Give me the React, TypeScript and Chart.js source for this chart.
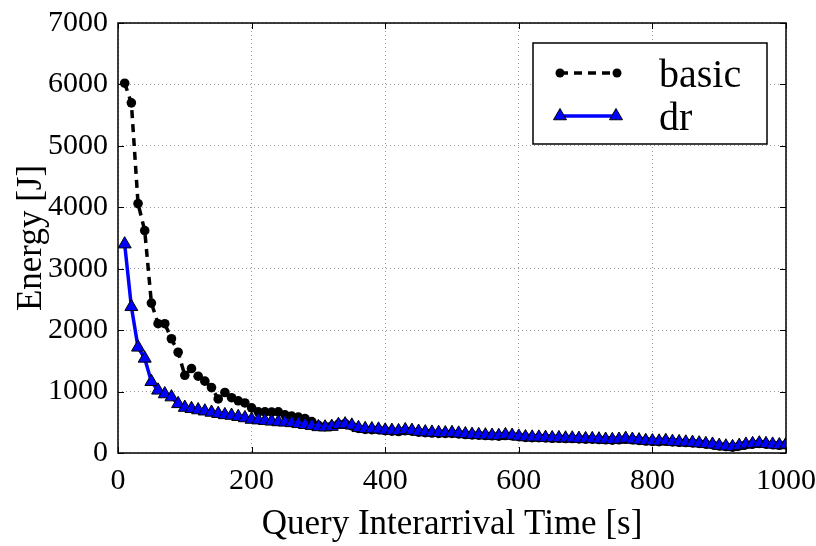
import React, { useEffect, useRef } from "react";
import { Chart, registerables } from "chart.js";

Chart.register(...registerables);

const xValues = [
  10, 20, 30, 40, 50, 60, 70, 80, 90, 100,
  110, 120, 130, 140, 150, 160, 170, 180, 190, 200,
  210, 220, 230, 240, 250, 260, 270, 280, 290, 300,
  310, 320, 330, 340, 350, 360, 370, 380, 390, 400,
  410, 420, 430, 440, 450, 460, 470, 480, 490, 500,
  510, 520, 530, 540, 550, 560, 570, 580, 590, 600,
  610, 620, 630, 640, 650, 660, 670, 680, 690, 700,
  710, 720, 730, 740, 750, 760, 770, 780, 790, 800,
  810, 820, 830, 840, 850, 860, 870, 880, 890, 900,
  910, 920, 930, 940, 950, 960, 970, 980, 990, 1000,
];

const basicValues = [
  6020, 5700, 4060, 3620, 2440, 2105, 2105, 1860, 1640, 1265,
  1375, 1250, 1170, 1065, 880, 985, 900, 850, 815, 735,
  670, 670, 665, 670, 620, 600, 585, 560, 510, 450,
  430, 440, 470, 480, 440, 400, 385, 380, 380, 365,
  355, 350, 365, 355, 340, 330, 325, 320, 320, 320,
  310, 300, 295, 290, 285, 280, 275, 285, 280, 265,
  255, 250, 250, 245, 240, 240, 235, 235, 230, 225,
  225, 220, 215, 210, 215, 225, 215, 205, 195, 190,
  185, 195, 180, 175, 170, 165, 155, 145, 135, 115,
  105, 95, 115, 135, 145, 155, 145, 135, 125, 135,
];

const drValues = [
  3400, 2380, 1720, 1540, 1160, 1020, 960, 910, 800, 740,
  720, 700, 680, 660, 640, 620, 610, 590, 570, 545,
  535, 525, 515, 505, 500, 490, 475, 460, 445, 425,
  420, 430, 460, 470, 450, 410, 395, 390, 385, 370,
  365, 360, 375, 365, 350, 340, 335, 330, 325, 330,
  320, 310, 300, 295, 290, 285, 280, 295, 285, 270,
  260, 255, 255, 250, 245, 245, 240, 240, 235, 230,
  230, 225, 220, 215, 220, 235, 220, 210, 200, 195,
  190, 200, 185, 180, 175, 170, 160, 150, 140, 120,
  110, 100, 120, 140, 150, 160, 150, 140, 130, 140,
];

const xTicks = [0, 200, 400, 600, 800, 1000];
const yTicks = [0, 1000, 2000, 3000, 4000, 5000, 6000, 7000];
const seriesLabels = ["basic", "dr"];
const xTitle = "Query Interarrival Time [s]";
const yTitle = "Energy [J]";

const FONT = "'Liberation Serif', 'Times New Roman', serif";

const framePlugin = {
  id: "frameAndLegend",
  afterDatasetsDraw(chart: any) {
    const { ctx, chartArea } = chart;
    const { left, right, top, bottom } = chartArea;
    const xs = chart.scales.x;
    const ys = chart.scales.y;
    ctx.save();
    // frame
    ctx.strokeStyle = "#000";
    ctx.lineWidth = 1.5;
    ctx.setLineDash([]);
    ctx.strokeRect(left, top, right - left, bottom - top);
    // inward ticks
    ctx.lineWidth = 1;
    const tl = 6;
    ctx.beginPath();
    xTicks.forEach((v) => {
      const px = Math.round(xs.getPixelForValue(v)) + 0.5;
      ctx.moveTo(px, bottom);
      ctx.lineTo(px, bottom - tl);
      ctx.moveTo(px, top);
      ctx.lineTo(px, top + tl);
    });
    yTicks.forEach((v) => {
      const py = Math.round(ys.getPixelForValue(v)) + 0.5;
      ctx.moveTo(left, py);
      ctx.lineTo(left + tl, py);
      ctx.moveTo(right, py);
      ctx.lineTo(right - tl, py);
    });
    ctx.stroke();

    // legend
    const bx = 533, by = 43, bw = 234, bh = 101;
    ctx.fillStyle = "#fff";
    ctx.fillRect(bx, by, bw, bh);
    ctx.strokeStyle = "#000";
    ctx.lineWidth = 1.5;
    ctx.strokeRect(bx, by, bw, bh);

    // basic sample
    const y1 = 73;
    ctx.strokeStyle = "#000";
    ctx.lineWidth = 3.5;
    ctx.setLineDash([8, 6]);
    ctx.beginPath();
    ctx.moveTo(560, y1);
    ctx.lineTo(617, y1);
    ctx.stroke();
    ctx.setLineDash([]);
    ctx.fillStyle = "#000";
    [560, 617].forEach((px) => {
      ctx.beginPath();
      ctx.arc(px, y1, 4.5, 0, Math.PI * 2);
      ctx.fill();
    });

    // dr sample
    const y2 = 116;
    ctx.strokeStyle = "#0000ff";
    ctx.lineWidth = 3.5;
    ctx.beginPath();
    ctx.moveTo(560, y2);
    ctx.lineTo(616, y2);
    ctx.stroke();
    [560, 616].forEach((px) => {
      const r = 7.5;
      ctx.beginPath();
      ctx.moveTo(px, y2 - r);
      ctx.lineTo(px + Math.sin((2 * Math.PI) / 3) * r, y2 - Math.cos((2 * Math.PI) / 3) * r);
      ctx.lineTo(px + Math.sin((4 * Math.PI) / 3) * r, y2 - Math.cos((4 * Math.PI) / 3) * r);
      ctx.closePath();
      ctx.fillStyle = "#0000ff";
      ctx.fill();
      ctx.strokeStyle = "#000";
      ctx.lineWidth = 1;
      ctx.stroke();
    });

    ctx.fillStyle = "#000";
    ctx.font = `40px ${FONT}`;
    ctx.textAlign = "left";
    ctx.textBaseline = "alphabetic";
    ctx.fillText(seriesLabels[0], 659, 87);
    ctx.fillText(seriesLabels[1], 659, 130);
    ctx.restore();
  },
};

export default function App() {
  const ref = useRef<HTMLCanvasElement>(null);
  useEffect(() => {
    const basicData = xValues.map((x, i) => ({ x, y: basicValues[i] }));
    const drData = xValues.map((x, i) => ({ x, y: drValues[i] }));
    const chart = new Chart(ref.current as HTMLCanvasElement, {
      type: "line",
      data: {
        datasets: [
          {
            label: seriesLabels[0],
            data: basicData,
            borderColor: "#000",
            backgroundColor: "#000",
            borderWidth: 3.5,
            borderDash: [8, 6],
            pointStyle: "circle",
            pointRadius: 4.8,
            pointBorderWidth: 0,
            pointBackgroundColor: "#000",
            tension: 0,
            order: 2,
          },
          {
            label: seriesLabels[1],
            data: drData,
            borderColor: "#0000ff",
            backgroundColor: "#0000ff",
            borderWidth: 3.5,
            pointStyle: "triangle",
            pointRadius: 7.5,
            pointBorderWidth: 1,
            pointBorderColor: "#000",
            pointBackgroundColor: "#0000ff",
            tension: 0,
            order: 1,
          },
        ],
      },
      options: {
        responsive: false,
        animation: false,
        devicePixelRatio: 1,
        layout: { padding: { top: 23, right: 30, left: 0, bottom: 0 } },
        plugins: {
          legend: { display: false },
          tooltip: { enabled: false },
        },
        scales: {
          x: {
            type: "linear",
            min: 0,
            max: 1000,
            afterBuildTicks: (s: any) => {
              s.ticks = xTicks.map((v) => ({ value: v }));
            },
            afterFit: (s: any) => {
              s.height = 93;
              s.paddingLeft = 0;
              s.paddingRight = 0;
            },
            ticks: {
              font: { family: FONT, size: 30 },
              color: "#000",
              padding: 10,
              maxRotation: 0,
              autoSkip: false,
              callback: (v: any) => String(v),
            },
            grid: {
              color: "#9a9a9a",
              lineWidth: 1,
              drawTicks: false,
            },
            border: { display: false, dash: [1, 3] },
            title: {
              display: true,
              text: xTitle,
              color: "#000",
              font: { family: FONT, size: 35 },
              padding: { top: 0, bottom: 0 },
            },
          },
          y: {
            type: "linear",
            min: 0,
            max: 7000,
            afterBuildTicks: (s: any) => {
              s.ticks = yTicks.map((v) => ({ value: v }));
            },
            afterFit: (s: any) => {
              s.width = 118;
              s.paddingTop = 0;
              s.paddingBottom = 0;
            },
            ticks: {
              font: { family: FONT, size: 30 },
              color: "#000",
              padding: 10,
              autoSkip: false,
              callback: (v: any) => String(v),
            },
            grid: {
              color: "#9a9a9a",
              lineWidth: 1,
              drawTicks: false,
            },
            border: { display: false, dash: [1, 3] },
            title: {
              display: true,
              text: yTitle,
              color: "#000",
              font: { family: FONT, size: 35 },
              padding: { top: 11, bottom: 0 },
            },
          },
        },
      },
      plugins: [framePlugin],
    } as any);
    return () => chart.destroy();
  }, []);
  return (
    <div
      style={{
        position: "absolute",
        left: 0,
        top: 0,
        width: 816,
        height: 546,
        background: "#fff",
      }}
    >
      <canvas ref={ref} width={816} height={546} style={{ display: "block" }} />
    </div>
  );
}
